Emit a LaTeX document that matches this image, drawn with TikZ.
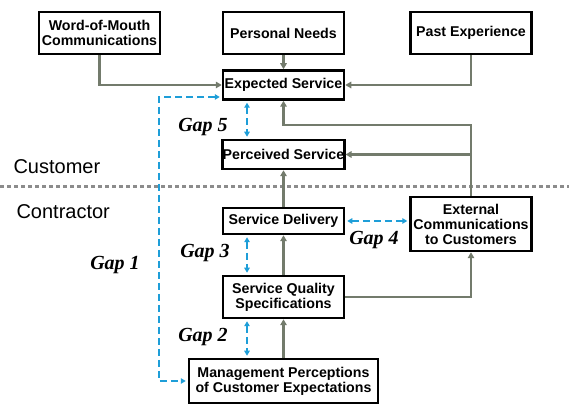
\documentclass[tikz,border=0pt]{standalone}
\usepackage{fontspec}
\setmainfont{Liberation Serif}
\setsansfont{Liberation Sans}
\usepackage{tikz}
\usetikzlibrary{arrows.meta, positioning}
\definecolor{GapBlue}{HTML}{1E9ED8}
\definecolor{FlowGrey}{HTML}{737B6C}
\definecolor{LineGrey}{HTML}{8C8C8C}

\begin{document}
\begin{tikzpicture}[x=1pt, y=1pt,
  box/.style={draw=black, line width=2.5pt, fill=white, align=center, inner sep=0pt,
    font=\sffamily\bfseries\fontsize{14.2}{15}\selectfont, minimum width=121pt},
  flow/.style={draw=FlowGrey, line width=2.7pt, -{Triangle[length=6pt, width=6.5pt]}},
  gap/.style={draw=GapBlue, line width=1.8pt, dash pattern=on 7pt off 4pt,
    {Triangle[length=5pt, width=5.5pt]}-{Triangle[length=5pt, width=5.5pt]},
    shorten <=2pt, shorten >=2pt},
  gaplabel/.style={font=\rmfamily\bfseries\itshape\fontsize{20}{22}\selectfont},
  side/.style={font=\sffamily\fontsize{20}{22}\selectfont, anchor=west}]
  \useasboundingbox (0,0) rectangle (569,406);

  % customer side
  \node[box, minimum height=42pt] (WoM) at (99.5,373) {Word-of-Mouth\\Communications};
  \node[box, minimum height=42pt] (PN) at (283.5,373) {Personal Needs};
  \node[box, minimum height=42pt] (PE) at (471,373) {Past Experience};
  \node[box, minimum height=29pt] (ES) at (283.5,321) {Expected Service};
  \node[box, minimum height=29pt] (PS) at (283.5,251.5) {Perceived Service};

  % contractor side
  \node[box, minimum height=26pt] (SD) at (283.5,185) {Service Delivery};
  \node[box, minimum height=54pt] (EC) at (471,182) {External\\Communications\\to Customers};
  \node[box, minimum height=42pt] (SQ) at (283.5,109) {Service Quality\\Specifications};
  \node[box, minimum height=44pt, minimum width=189pt] (MP) at (283.5,25) {Management Perceptions\\of Customer Expectations};

  \node[side] (cust) at (10,239) {Customer};
  \node[side] (contr) at (13,194) {Contractor};
  \draw[LineGrey, line width=3pt, dash pattern=on 4pt off 3pt] (0,219) -- (569,219);

  % turning points
  \coordinate (top) at (0,281);
  \coordinate (gx) at (247,0);
  \coordinate (g1) at (159,309);

  % grey flows
  \draw[flow] (WoM.south) |- (ES.west);
  \draw[flow] (PN.south) -- (ES.north);
  \draw[flow] (PE.south) |- (ES.east);
  \draw[flow] (EC.north) |- (top -| ES.south) -- (ES.south);
  \draw[flow] (EC.north |- PS.east) -- (PS.east);
  \draw[flow] (SD.north) -- (PS.south);
  \draw[flow] (SQ.north) -- (SD.south);
  \draw[flow] (MP.north) -- (SQ.south);
  \draw[flow] (SQ.east) -| (EC.south);

  % gaps
  \draw[gap] (ES.west |- g1) -- (g1) |- (MP.west);
  \draw[gap] (gx |- ES.south) -- (gx |- PS.north);
  \draw[gap] (gx |- SD.south) -- (gx |- SQ.north);
  \draw[gap] (gx |- SQ.south) -- (gx |- MP.north);
  \draw[gap] (SD.east) -- (SD.east -| EC.west);
  \node[gaplabel] (gap5) at (203,279) {Gap 5};
  \node[gaplabel] (gap4) at (374,166) {Gap 4};
  \node[gaplabel] (gap3) at (205,153) {Gap 3};
  \node[gaplabel] (gap2) at (203,69) {Gap 2};
  \node[gaplabel] (gap1) at (115,141) {Gap 1};
\end{tikzpicture}
\end{document}
